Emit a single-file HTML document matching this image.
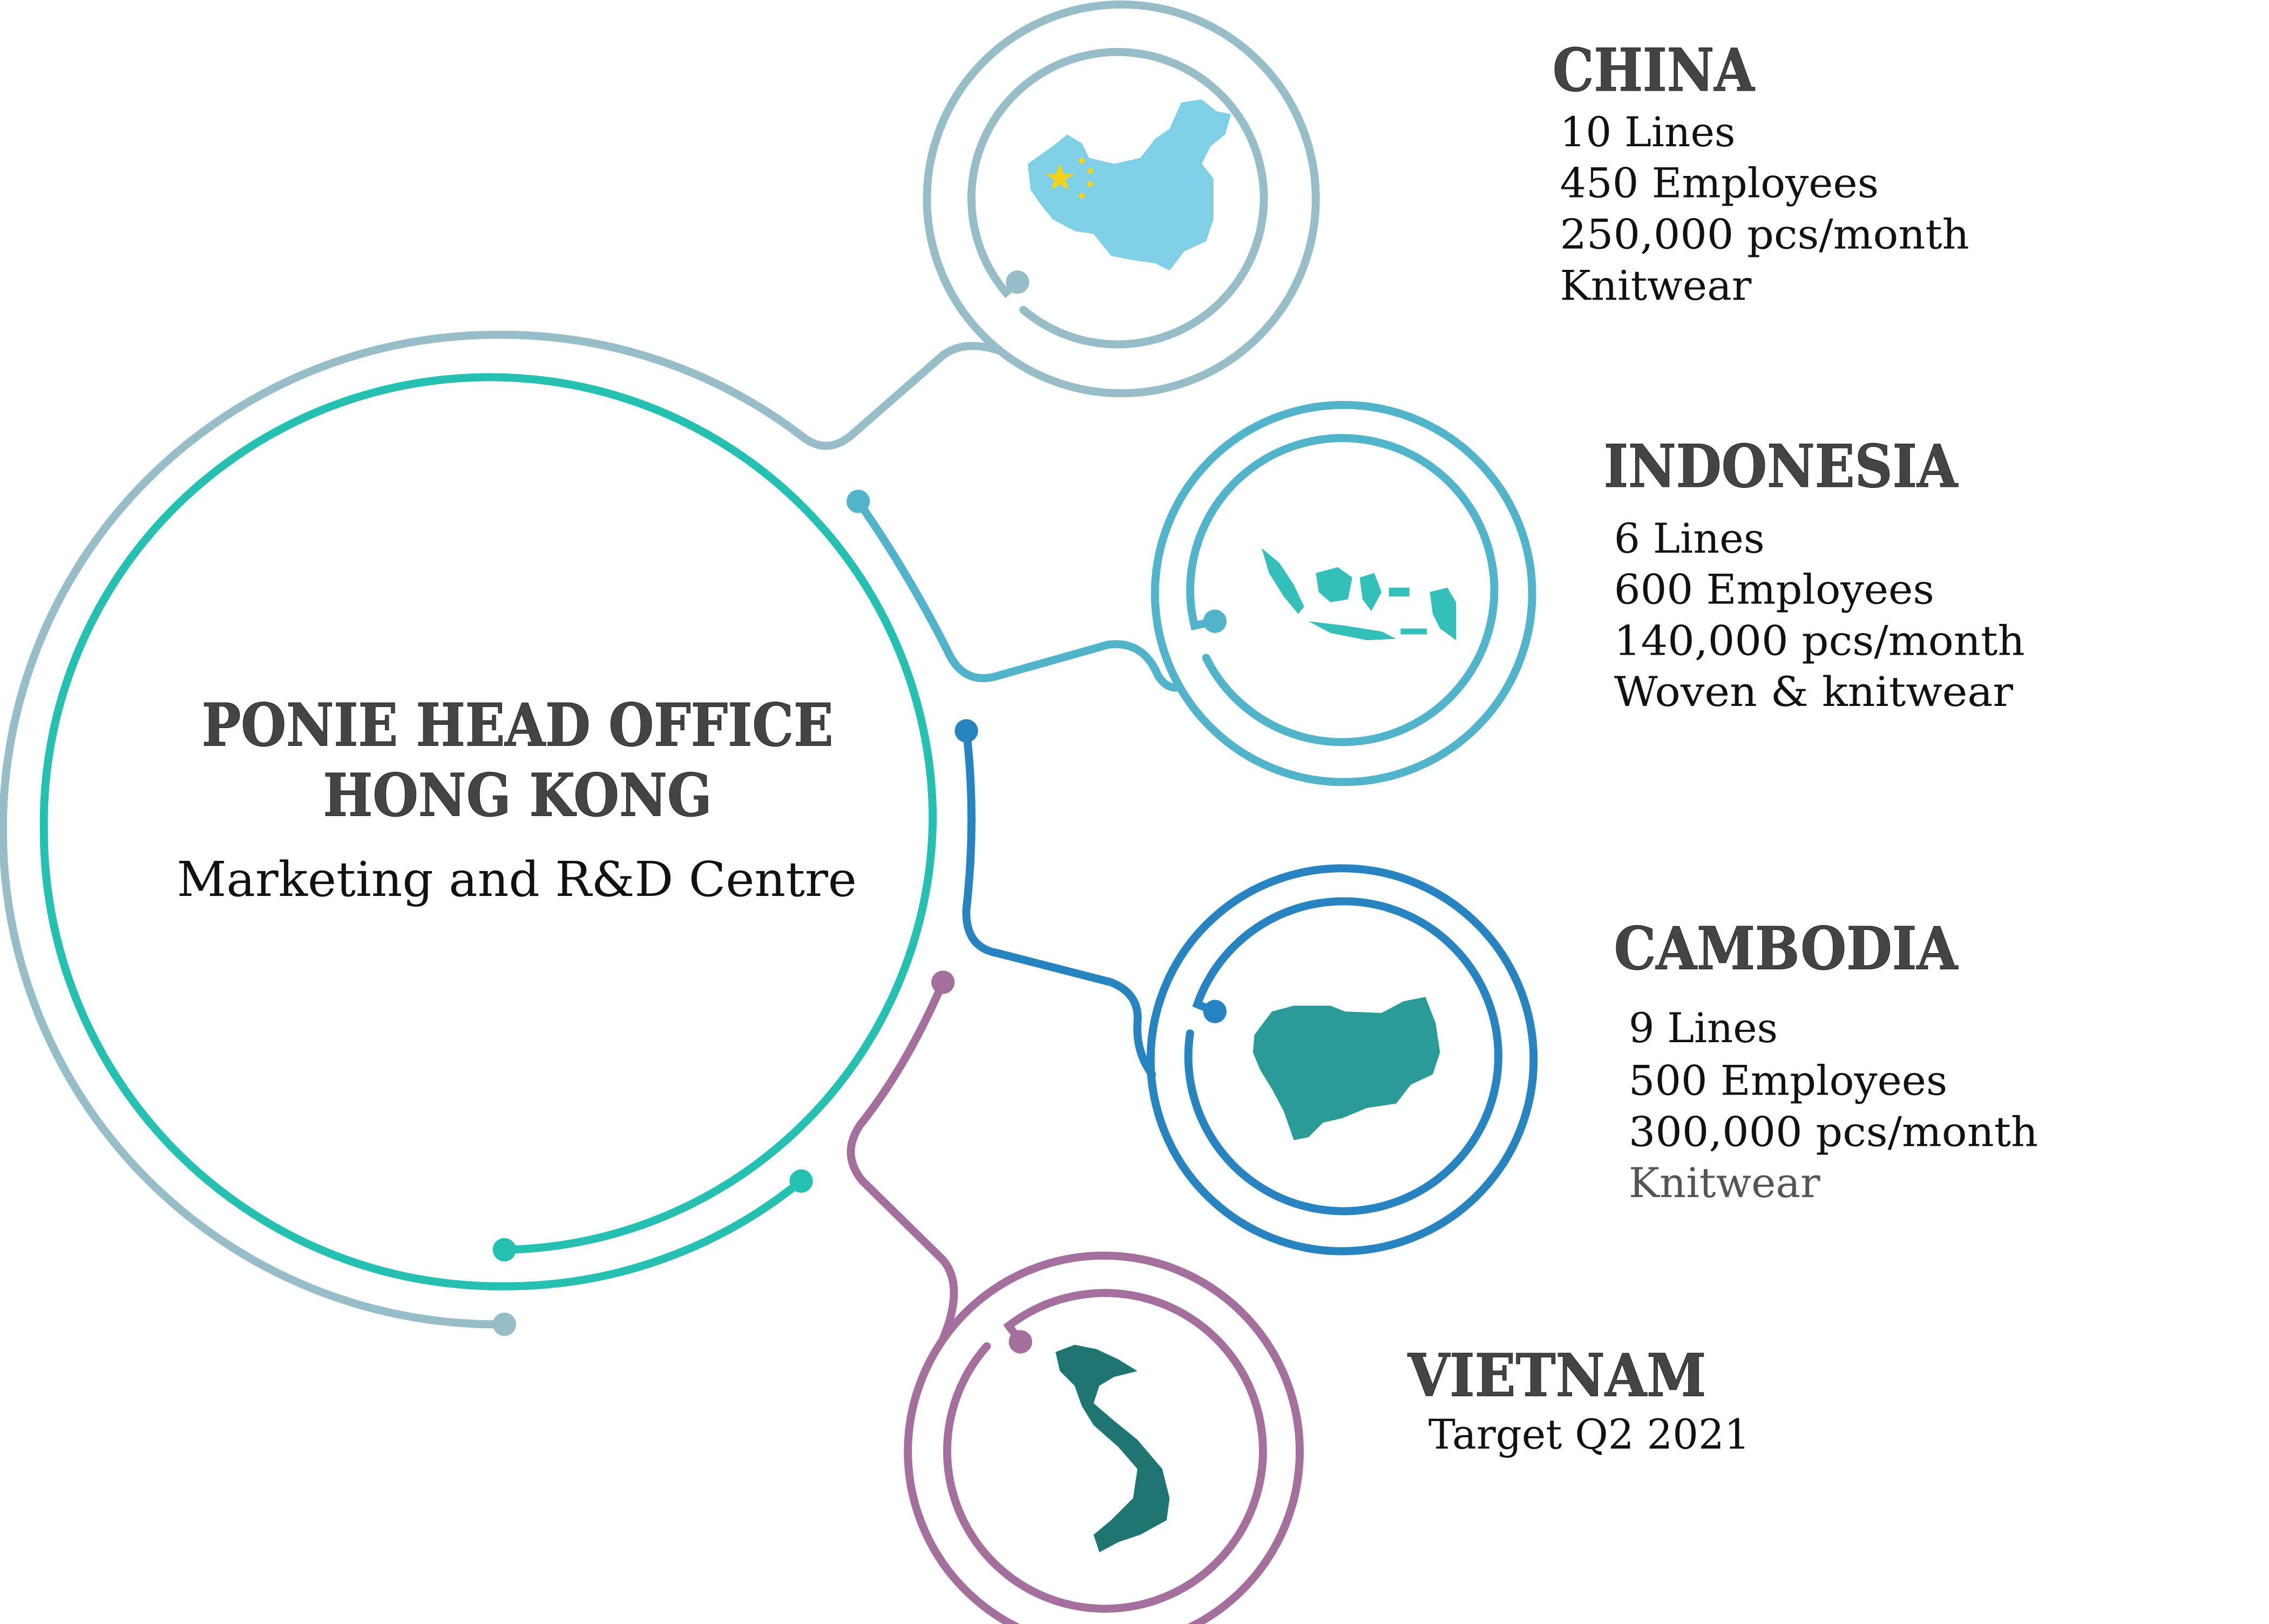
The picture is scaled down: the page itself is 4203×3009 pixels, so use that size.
<!DOCTYPE html>
<html><head><meta charset="utf-8"><style>
html,body{margin:0;padding:0;background:#fff}
svg{display:block}
.h{font-family:"DejaVu Serif","Liberation Serif",serif;font-weight:bold;fill:#444;stroke:#222;stroke-width:0.4}
.t{font-family:"DejaVu Serif","Liberation Serif",serif;fill:#111}
</style></head><body>
<svg width="4203" height="3009" viewBox="0 0 1552 1111" xmlns="http://www.w3.org/2000/svg">
<g fill="none" stroke-width="5.5" stroke-linecap="round">
<path stroke="#96bdc8" d="M345,906 A338 338 0 0 1 2,567 A338 338 0 0 1 340,229 A338 338 0 0 1 548,298 Q565,312 582,298 L645,243 Q660,232 684,240"/>
<circle stroke="#96bdc8" cx="767" cy="136" r="133"/>
<path stroke="#96bdc8" d="M696,193 L688,200 A100 100 0 1 1 700,212"/>
<path stroke="#26c0b3" d="M548,808 A320 320 0 0 1 345,880 A312 312 0 0 1 30,567 A305 305 0 0 1 335,258 A303 303 0 0 1 638,560 A298 298 0 0 1 345,855"/>
<path stroke="#52b4cb" d="M587,343 Q620,390 648,445 Q658,468 680,463 L758,441 Q782,438 792,462 Q798,472 807,470"/>
<circle stroke="#52b4cb" cx="919" cy="406" r="129"/>
<path stroke="#52b4cb" d="M831,425 L817,428 A104 104 0 1 1 825,450"/>
<path stroke="#2784c0" d="M661,500 Q668,560 661,622 Q660,648 682,652 L760,672 Q780,680 778,700 Q777,720 788,735"/>
<circle stroke="#2784c0" cx="918" cy="725" r="131"/>
<path stroke="#2784c0" d="M831,692 L819,687 A106 106 0 1 1 814,707"/>
<path stroke="#a56f9d" d="M645,672 Q620,730 588,770 Q575,790 590,808 L645,862 Q660,880 645,916"/>
<circle stroke="#a56f9d" cx="755" cy="993" r="134"/>
<path stroke="#a56f9d" d="M698,918 L690,907 A108 108 0 1 1 675,921"/>
</g>
<g>
<circle cx="696" cy="193" r="8" fill="#96bdc8"/>
<circle cx="345" cy="906" r="8" fill="#96bdc8"/>
<circle cx="548" cy="808" r="8" fill="#26c0b3"/>
<circle cx="345" cy="855" r="8" fill="#26c0b3"/>
<circle cx="587" cy="343" r="8" fill="#52b4cb"/>
<circle cx="831" cy="425" r="8" fill="#52b4cb"/>
<circle cx="661" cy="500" r="8" fill="#2784c0"/>
<circle cx="831" cy="692" r="8" fill="#2784c0"/>
<circle cx="645" cy="672" r="8" fill="#a56f9d"/>
<circle cx="698" cy="918" r="8" fill="#a56f9d"/>
</g>
<path fill="#7fd0e6" d="M703,112 L720,100 L730,92 L740,98 L745,108 L762,112 L780,108 L790,95 L800,88 L808,70 L822,68 L832,76 L842,78 L838,92 L828,100 L822,112 L830,122 L830,150 L825,165 L810,172 L800,185 L790,180 L775,178 L760,175 L748,160 L735,158 L720,150 L712,140 L705,130 Z"/>
<polygon fill="#f3d21e" points="725,112 728,119 735,119 729,123 731,130 725,126 719,130 721,123 715,119 722,119"/>
<g fill="#f3d21e"><circle cx="740" cy="110" r="2"/><circle cx="746" cy="117" r="2"/><circle cx="746" cy="126" r="2"/><circle cx="740" cy="134" r="2"/></g>
<g fill="#35bfbb">
<path d="M863,375 L875,385 L885,400 L892,415 L888,420 L878,408 L868,392 Z"/>
<path d="M900,392 L915,388 L925,395 L922,410 L910,412 L902,405 Z"/>
<path d="M930,395 L940,392 L945,405 L938,418 L932,410 Z"/>
<path d="M895,425 L920,428 L945,432 L955,437 L935,438 L910,433 Z"/>
<path d="M978,405 L990,402 L996,412 L996,438 L985,430 L980,420 Z"/>
<rect x="950" y="402" width="14" height="6"/>
<rect x="958" y="430" width="18" height="4"/>
</g>
<path fill="#2b9b98" d="M858,708 L870,692 L885,688 L910,688 L920,692 L945,693 L960,685 L975,682 L982,700 L985,720 L980,735 L965,742 L955,755 L935,758 L918,765 L905,768 L895,778 L885,780 L878,760 L870,745 L862,732 L857,720 Z"/>
<path fill="#1f7572" d="M722,925 L735,920 L750,923 L765,930 L778,938 L762,942 L752,948 L748,960 L762,972 L778,985 L795,1005 L800,1025 L798,1040 L780,1050 L765,1055 L752,1062 L748,1050 L760,1040 L775,1025 L778,1005 L765,990 L748,975 L740,962 L735,948 L725,938 Z"/>
<text class="h" x="1062" y="62" font-size="40" textLength="138" lengthAdjust="spacingAndGlyphs">CHINA</text>
<g class="t" font-size="28">
<text x="1067" y="100" textLength="120" lengthAdjust="spacingAndGlyphs">10 Lines</text>
<text x="1067" y="135" textLength="218" lengthAdjust="spacingAndGlyphs">450 Employees</text>
<text x="1067" y="170" textLength="280" lengthAdjust="spacingAndGlyphs">250,000 pcs/month</text>
<text x="1067" y="205" textLength="131" lengthAdjust="spacingAndGlyphs">Knitwear</text>
</g>
<text class="h" x="1097" y="333" font-size="40" textLength="242" lengthAdjust="spacingAndGlyphs">INDONESIA</text>
<g class="t" font-size="28">
<text x="1104" y="378" textLength="103" lengthAdjust="spacingAndGlyphs">6 Lines</text>
<text x="1104" y="413" textLength="219" lengthAdjust="spacingAndGlyphs">600 Employees</text>
<text x="1104" y="448" textLength="281" lengthAdjust="spacingAndGlyphs">140,000 pcs/month</text>
<text x="1104" y="483" textLength="273" lengthAdjust="spacingAndGlyphs">Woven &amp; knitwear</text>
</g>
<text class="h" x="1104" y="663" font-size="40" textLength="235" lengthAdjust="spacingAndGlyphs">CAMBODIA</text>
<g class="t" font-size="28">
<text x="1114" y="713" textLength="102" lengthAdjust="spacingAndGlyphs">9 Lines</text>
<text x="1114" y="749" textLength="218" lengthAdjust="spacingAndGlyphs">500 Employees</text>
<text x="1114" y="784" textLength="280" lengthAdjust="spacingAndGlyphs">300,000 pcs/month</text>
<text x="1114" y="819" textLength="131" lengthAdjust="spacingAndGlyphs" fill="#555">Knitwear</text>
</g>
<text class="h" x="963" y="955" font-size="40" textLength="204" lengthAdjust="spacingAndGlyphs">VIETNAM</text>
<text class="t" x="977" y="991" font-size="28" textLength="220" lengthAdjust="spacingAndGlyphs">Target Q2 2021</text>
<text class="h" x="138" y="510" font-size="40" textLength="432" lengthAdjust="spacingAndGlyphs">PONIE HEAD OFFICE</text>
<text class="h" x="221" y="558" font-size="40" textLength="266" lengthAdjust="spacingAndGlyphs">HONG KONG</text>
<text class="t" x="121" y="613" font-size="33" textLength="465" lengthAdjust="spacingAndGlyphs">Marketing and R&amp;D Centre</text>
</svg>
</body></html>
